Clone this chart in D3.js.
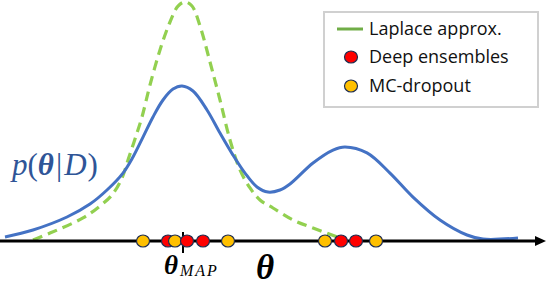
<!DOCTYPE html>
<html>
<head>
<meta charset="utf-8">
<script src="https://cdn.jsdelivr.net/npm/d3@7"></script>
<style>
  body { margin: 0; background: #fff; }
  svg { display: block; }
</style>
</head>
<body>
<div id="chart"></div>
<script>
var width = 546;
var height = 282;

// posterior p(theta|D) (theta, density)
var posteriorTheta = [-3.56, -3.0, -2.32, -1.86, -1.52, -1.2, -1.0, -0.8, -0.6, -0.4, -0.2, -0.02, 0.2, 0.48, 0.74, 1.0, 1.24, 1.48, 1.7, 1.94, 2.14, 2.6, 3.0, 3.24, 3.68, 4.14, 4.6, 5.14, 5.68, 6.0, 6.7];
var posteriorDens  = [0.017, 0.046, 0.10, 0.154, 0.2125, 0.283, 0.35, 0.433, 0.517, 0.5875, 0.633, 0.646, 0.625, 0.546, 0.45, 0.358, 0.283, 0.225, 0.204, 0.2125, 0.2375, 0.325, 0.379, 0.392, 0.367, 0.283, 0.183, 0.0875, 0.025, 0.008, 0.0125];

// laplace approximation
var laplaceTheta = [-3.0, -2.66, -2.0, -1.66, -1.42, -1.22, -1.1, -0.96, -0.82, -0.66, -0.46, -0.26, -0.1, 0.04, 0.18, 0.34, 0.54, 0.74, 0.94, 1.14, 1.34, 1.54, 1.8, 2.2, 2.6, 3.08];
var laplaceDens  = [0.004, 0.033, 0.096, 0.146, 0.192, 0.2625, 0.3375, 0.425, 0.517, 0.65, 0.796, 0.9125, 0.979, 0.996, 0.979, 0.896, 0.746, 0.5875, 0.421, 0.296, 0.221, 0.171, 0.1375, 0.0875, 0.054, 0.017];

// sampled points
var deepEnsembles = [-0.3, 0.08, 0.4, 3.16, 3.46];
var mcDropout = [-0.8, -0.16, 0.9, 2.84, 3.86];
var thetaMap = 0;

var legendLabels = ["Laplace approx.", "Deep ensembles", "MC-dropout"];

var blue = "#4472c4", green = "#92d050", red = "#ff0000", yellow = "#ffc000";

var x = d3.scaleLinear().domain([-3.66, 7.26]).range([0, 546]);
var y = d3.scaleLinear().domain([0, 1]).range([241, 1]);

var svg = d3.select("#chart").append("svg").attr("width", width).attr("height", height);

var line = d3.line().x(function(d) { return x(d[0]); }).y(function(d) { return y(d[1]); }).curve(d3.curveCatmullRom);

svg.append("path").datum(d3.zip(laplaceTheta, laplaceDens))
  .attr("d", line).attr("fill", "none").attr("stroke", green)
  .attr("stroke-width", 3.2).attr("stroke-dasharray", "10,6");

svg.append("path").datum(d3.zip(posteriorTheta, posteriorDens))
  .attr("d", line).attr("fill", "none").attr("stroke", blue).attr("stroke-width", 3);

// axis with arrow
svg.append("line").attr("x1", 0).attr("x2", 538).attr("y1", y(0)).attr("y2", y(0))
  .attr("stroke", "black").attr("stroke-width", 3);
svg.append("path").attr("d", "M546," + y(0) + "L535," + (y(0) - 5) + "L535," + (y(0) + 5) + "Z").attr("fill", "black");

svg.append("line").attr("x1", x(thetaMap)).attr("x2", x(thetaMap)).attr("y1", 232).attr("y2", 253)
  .attr("stroke", "black").attr("stroke-width", 2);

var dots = deepEnsembles.map(function(v) { return {t: v, c: red}; })
  .concat(mcDropout.map(function(v) { return {t: v, c: yellow}; }));
dots.sort(function(a, b) { return a.t - b.t; });

svg.append("g").selectAll("ellipse").data(dots).enter().append("ellipse")
  .attr("cx", function(d) { return x(d.t); }).attr("cy", y(0))
  .attr("rx", 6.5).attr("ry", 6)
  .attr("fill", function(d) { return d.c; })
  .attr("stroke", "#1f2d50").attr("stroke-width", 1.2);

// math labels
var lab = svg.append("text").attr("x", 12).attr("y", 175)
  .attr("font-family", "Liberation Serif, DejaVu Serif, serif").attr("font-size", 31).attr("fill", "#2f5597");
lab.append("tspan").attr("font-style", "italic").text("p");
lab.append("tspan").text("(");
lab.append("tspan").attr("font-style", "italic").attr("font-weight", "bold").text("θ");
lab.append("tspan").attr("dx", 2).text("|");
lab.append("tspan").attr("dx", 2).attr("font-style", "italic").text("D");
lab.append("tspan").attr("dx", 1).text(")");

var mapLab = svg.append("text").attr("x", 164).attr("y", 274)
  .attr("font-family", "Liberation Serif, DejaVu Serif, serif").attr("font-style", "italic");
mapLab.append("tspan").attr("font-weight", "bold").attr("font-size", 27).text("θ");
mapLab.append("tspan").attr("font-size", 16).attr("dx", 2).attr("dy", 2).attr("letter-spacing", 2).text("MAP");

svg.append("text").attr("x", 256).attr("y", 279)
  .attr("font-family", "Liberation Serif, DejaVu Serif, serif").attr("font-style", "italic")
  .attr("font-weight", "bold").attr("font-size", 35).text("θ");

// legend
var legend = svg.append("g");
legend.append("rect").attr("x", 324).attr("y", 12).attr("width", 214).attr("height", 95)
  .attr("fill", "white").attr("stroke", "#d0d0d0").attr("stroke-width", 2);

legend.append("line").attr("x1", 337).attr("x2", 363).attr("y1", 29).attr("y2", 29)
  .attr("stroke", "#70ad47").attr("stroke-width", 3);
legend.append("ellipse").attr("cx", 351).attr("cy", 57).attr("rx", 6.5).attr("ry", 6)
  .attr("fill", red).attr("stroke", "#1f2d50").attr("stroke-width", 1.2);
legend.append("ellipse").attr("cx", 351).attr("cy", 86).attr("rx", 6.5).attr("ry", 6)
  .attr("fill", yellow).attr("stroke", "#1f2d50").attr("stroke-width", 1.2);

legend.selectAll("text.lg").data(legendLabels).enter().append("text")
  .attr("class", "lg")
  .attr("x", 369).attr("y", function(d, i) { return [29, 57, 86][i] + 6; })
  .attr("font-family", "Open Sans, sans-serif").attr("font-size", 18).attr("fill", "#111")
  .text(function(d) { return d; });
</script>
</body>
</html>
